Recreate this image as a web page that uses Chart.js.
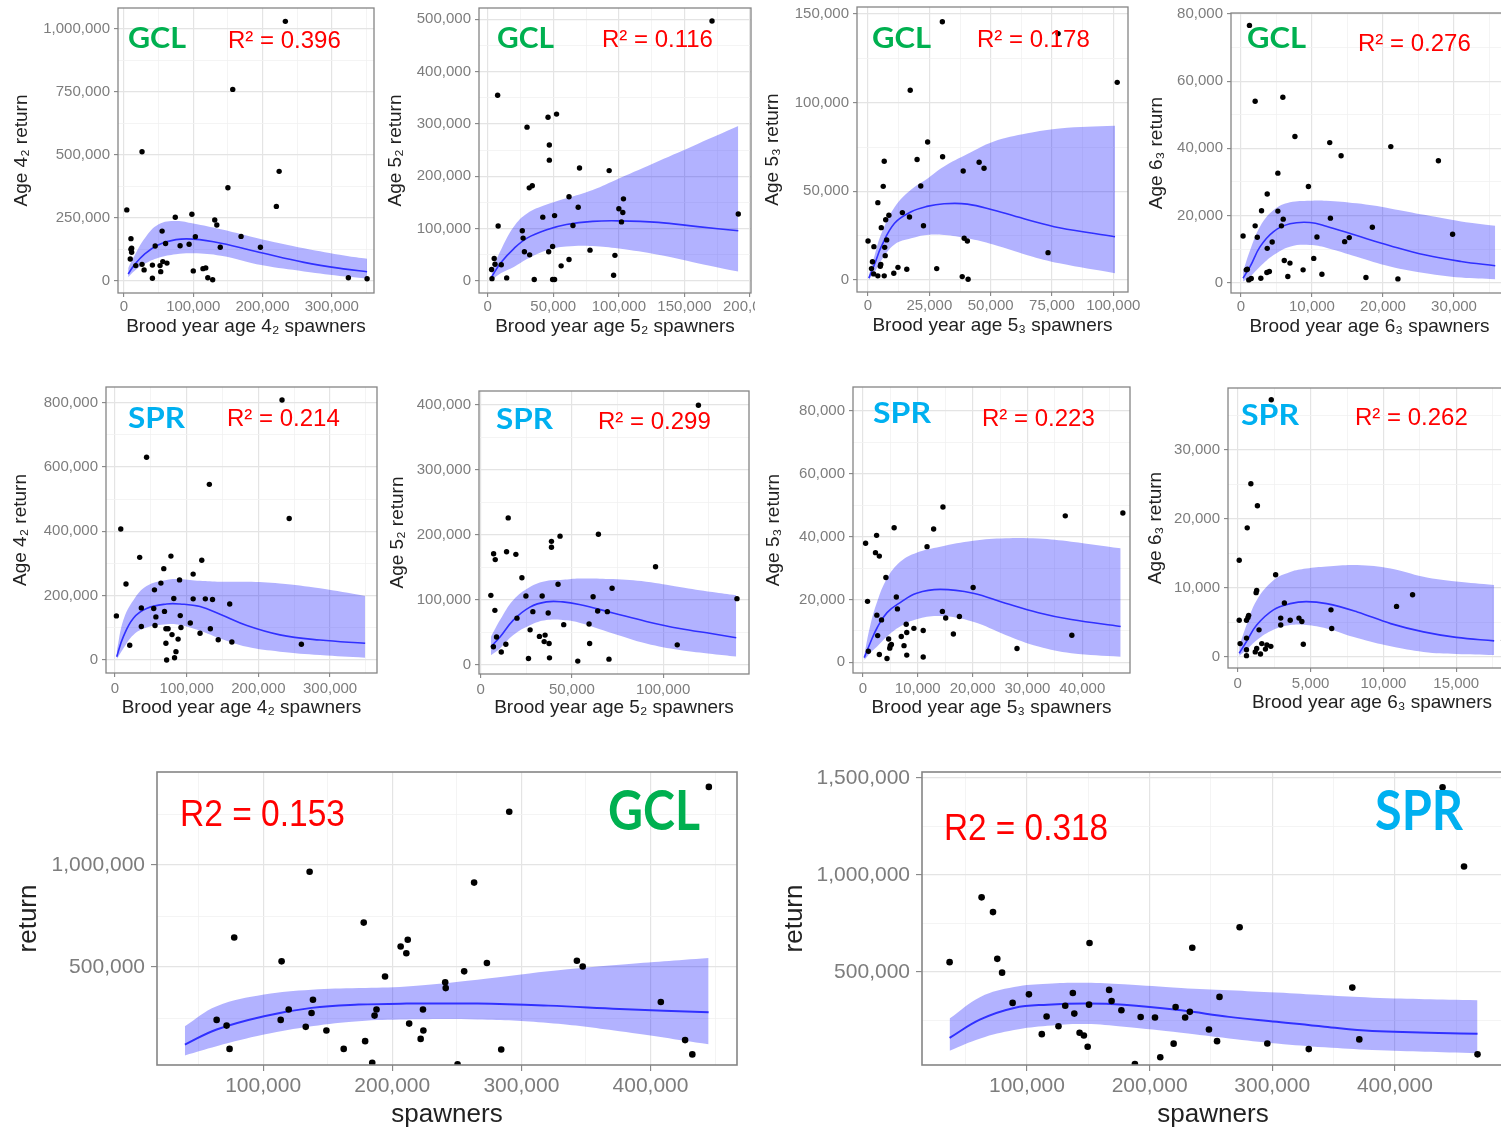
<!DOCTYPE html>
<html>
<head>
<meta charset="utf-8">
<script src="https://cdn.jsdelivr.net/npm/chart.js@4.4.1/dist/chart.umd.min.js"></script>
<style>
html,body{margin:0;padding:0;background:#fff;overflow:hidden;width:1501px;height:1130px;position:relative}
canvas{position:absolute;display:block}
</style>
</head>
<body>
<script>
// ---------------- DATA ----------------
// GCL, age 4_2
const gcl42_spawners = [4000,10000,10000,11000,11000,9000,17000,26000,26000,29000,41000,41000,45000,55000,52000,53000,56000,60000,62000,74000,81000,94000,98000,100000,103000,114000,118000,121000,128000,131000,134000,139000,150000,157000,169000,197000,220000,224000,233000,324000,351000];
const gcl42_return   = [282000,168000,126000,114000,130000,87000,61000,513000,66000,44000,63000,11000,139000,198000,61000,37000,77000,149000,71000,253000,140000,146000,265000,40000,176000,49000,52000,13000,5000,242000,222000,134000,370000,760000,177000,134000,296000,435000,1030000,13000,9000];
const gcl42_fitS = [6000,15000,30000,50000,75000,100000,140000,200000,260000,320000,351000];
const gcl42_fit  = [28000,64000,108000,144000,164000,166000,150000,111000,74000,47000,37000];
const gcl42_hi   = [52000,100000,170000,225000,238000,228000,205000,165000,130000,100000,88000];
const gcl42_lo   = [15000,40000,68000,92000,106000,110000,100000,62000,38000,18000,10000];

// GCL, age 5_2
const gcl52_spawners = [3300,3000,5000,5600,8000,7600,10400,14500,26400,27000,28000,30000,31700,34000,32000,35500,42000,46000,47000,47000,46500,49500,49500,51000,51000,52500,56000,62000,62000,65000,69000,70000,78000,92600,97000,96000,100000,102000,103000,103500,171000,191000];
const gcl52_return   = [4500,22000,43000,32000,105000,355000,31000,6000,96000,82000,56000,294000,178000,182000,50000,3000,122000,313000,260000,231000,56000,66000,3000,3000,125000,319000,29000,161000,41000,106000,141000,216000,59000,211000,49000,11000,138000,113000,131000,157000,497000,128000];
const gcl52_fitS = [3000,10000,20000,30000,45000,60000,80000,100000,130000,160000,191000];
const gcl52_fit  = [8000,35000,62000,82000,98000,108000,114000,115000,112000,104000,96000];
const gcl52_hi   = [20000,59000,104000,129000,146000,158000,174000,196000,229000,262000,296000];
const gcl52_lo   = [2000,15000,27000,42000,59000,66000,67000,62000,50000,34000,18000];

// GCL, age 5_3
const gcl53_spawners = [0,2400,1800,1400,2300,4000,4000,5000,5200,5400,6200,6600,6600,6800,7000,7200,7600,8500,10500,12200,14000,15800,30300,17200,16900,20000,21500,22600,24300,28000,30400,38400,38800,39200,40500,40800,45300,47300,73400,77500,101600];
const gcl53_return   = [22000,18800,10300,6400,3400,43600,2300,7700,8700,29500,52800,67000,2300,18400,13700,34000,22600,36500,3800,7100,38000,6000,145700,107000,35500,68000,53000,30600,77800,6400,69500,1900,61500,23500,22000,400,66400,63000,15400,139000,111500];
const gcl53_fitS = [300,2700,5400,10800,17600,24000,31000,40500,51000,65000,78000,100700];
const gcl53_fit  = [1000,9000,18800,32000,38500,41500,43000,42800,39500,34000,29500,24400];
const gcl53_hi   = [2500,14000,26000,41000,51000,57000,64000,71000,78000,82700,85500,87000];
const gcl53_lo   = [0,4500,11000,20000,23500,25400,25400,23500,20000,14000,9400,3800];

// GCL, age 6_3
const gcl63_spawners = [300,750,900,1100,1450,1200,2000,2000,2300,2800,2900,3700,3700,3650,4000,4400,5200,5200,5700,5900,5950,6100,6600,6900,7600,8750,9500,10250,10700,11400,12500,12600,14100,14600,15250,17600,18500,21100,22100,27800,29800];
const gcl63_return   = [13900,3800,4000,800,1200,76600,54000,16900,13500,1300,21400,26400,10200,3000,3300,12100,21300,32600,16900,55200,18900,6600,1800,5800,43500,3800,28600,7200,13600,2500,41700,19200,37800,12200,13400,1500,16500,40500,1100,36300,14400];
const gcl63_fitS = [300,1300,2700,4600,6900,9700,12000,16300,21000,26000,31000,35800];
const gcl63_fit  = [1300,4800,10700,15200,17500,17900,16800,14000,11000,8200,6300,5000];
const gcl63_hi   = [3300,9700,16700,21600,23900,24400,24400,23600,22100,20100,18200,16900];
const gcl63_lo   = [300,1800,4800,8200,10700,11200,10400,7700,4800,2800,1500,1000];

// SPR, age 4_2
const spr42_spawners = [1900,8000,15300,20500,34400,36700,36700,44000,54000,55000,55800,57000,64000,68000,69000,71000,71000,72000,74000,78000,79500,82000,83000,85000,88000,90000,91000,92000,105000,109000,109000,118600,121000,126000,131600,133000,136000,144000,160000,163000,233000,243000,260000];
const spr42_return   = [137000,407000,236000,46000,319000,162000,104000,630000,160000,218000,107000,134000,239000,284000,151000,52000,97000,0,97000,323000,79000,191000,7000,26000,65000,249000,138000,101000,115000,267000,190000,83000,310000,190000,546000,97000,188000,63000,174000,56000,808000,440000,49000];
const spr42_fitS = [2300,11600,25600,44000,72000,90700,118600,146500,184000,230000,286000,349000];
const spr42_fit  = [10000,72500,130000,160000,174000,174000,166000,142000,107000,78000,62000,52000];
const spr42_hi   = [26000,124000,186000,230000,249000,251000,246000,243000,243000,238000,223000,199000];
const spr42_lo   = [2000,36000,78000,101000,111000,109000,91000,67000,41000,26000,15500,7000];

// SPR, age 5_2
const spr52_spawners = [5600,7100,8000,7800,8700,7000,11300,13800,14200,15100,19300,19900,22600,24800,26200,27100,28600,32200,33700,34800,35300,37500,37700,37000,38800,38800,42400,43500,45500,53200,59400,59700,61600,64100,64500,69400,70300,72000,95800,107700,119300,140400];
const spr52_return   = [107000,171000,162000,84000,43000,28000,20000,32000,174000,226000,170000,72000,134000,106000,10000,54000,82000,44000,106000,36000,46000,33000,11000,80000,190000,181000,124000,198000,62000,6000,63000,33000,105000,83000,201000,82000,9000,118000,151000,31000,399000,102000];
const spr52_fitS = [5600,10600,17900,27000,36000,45000,54000,72500,90700,109000,127000,140000];
const spr52_fit  = [28000,43000,69000,89000,97000,97000,93000,80000,67000,56000,48000,42000];
const spr52_hi   = [43000,69000,100000,120000,129000,131000,133000,132000,128000,120000,112000,107000];
const spr52_lo   = [15000,25500,46000,61000,69000,69000,65000,48500,33000,23000,17000,13000];

// SPR, age 5_3
const spr53_spawners = [500,850,1000,2300,2500,2550,2700,3000,3000,3400,4200,4400,4700,4900,5000,5200,5700,6100,6300,7000,7500,7900,8000,8000,9300,11000,11000,11700,12900,14600,14500,15100,16500,17600,20100,28100,36900,38100,47400];
const spr53_return   = [37900,19400,3500,34900,40400,15000,8500,33800,2500,13500,27000,1200,7400,4500,5300,5700,42800,20800,17000,8200,5300,12100,9500,2300,10800,1700,10100,36800,42400,49400,16200,14100,9000,14600,23800,4400,46600,8600,47500];
const spr53_fitS = [250,1300,2600,4400,6800,9800,14100,20100,26000,32000,38000,47000];
const spr53_fit  = [1500,6000,11000,15800,19000,22000,23200,22000,18800,15800,13600,11400];
const spr53_hi   = [2300,11400,19300,26700,32000,34900,36800,38700,39500,39400,38400,36300];
const spr53_lo   = [700,2900,5000,8200,11400,13700,14700,12900,8700,5000,2900,1800];

// SPR, age 6_3
const spr63_spawners = [100,100,160,600,600,600,600,700,750,650,900,1200,1260,1300,1350,1300,1460,1560,1650,1900,2000,2270,2300,2600,2950,2950,3200,3600,4200,4400,4500,6400,6450,10900,12000,18250];
const spr63_return   = [14000,5300,1900,2700,1000,150,5300,5700,6000,18700,25100,700,9300,9600,21900,1200,3900,400,1900,1100,1700,1500,37300,11900,5600,4600,7800,5300,5600,5100,1800,6800,4100,7300,9000,2400];
const spr63_fitS = [100,600,1300,2450,3600,4700,6100,8200,10500,12750,15000,17600];
const spr63_fit  = [500,2200,4600,6800,7700,8000,7700,6500,4800,3600,2800,2300];
const spr63_hi   = [1500,4600,8200,11100,12300,12800,13100,13300,12800,11600,10900,10400];
const spr63_lo   = [100,1000,2400,3900,4600,4600,4100,2700,1500,700,400,250];

// GCL, all ages
const gclAll_spawners = [64000,71700,74000,77600,114300,113600,119800,133000,136000,137500,138600,149000,162400,177900,179000,184500,186300,187800,194400,206500,210900,212000,213100,222000,223800,224100,241000,241400,250600,255700,263400,273300,284400,290600,343000,347500,408000,426800,432400,445200];
const gclAll_return   = [241000,213000,99000,645000,528000,241000,292000,207000,967000,275000,340000,189000,99000,718000,137000,31000,262000,292000,454000,601000,568000,634000,223000,148000,292000,189000,425000,397000,23000,479000,914000,520000,96000,1261000,531000,503000,329000,142000,72000,1383000];
const gclAll_fitS = [39400,64000,100700,137500,174000,211000,266000,321000,376000,445000];
const gclAll_fit  = [120000,194000,259000,300000,316000,321000,321000,311000,295000,278000];
const gclAll_hi   = [210000,308000,365000,389000,397000,405000,438000,479000,511000,544000];
const gclAll_lo   = [67000,112000,169000,210000,235000,243000,243000,226000,186000,122000];

// SPR, all ages
const sprAll_spawners = [36900,63000,72300,75800,79700,88300,101600,112100,116000,125700,131200,137400,138600,142900,146400,149500,151000,150600,167000,169000,177000,188000,192700,204400,208700,219600,221200,229000,232800,234800,248400,255000,257000,273400,296000,329800,365300,371000,438900,456400,467400];
const sprAll_return   = [551000,885000,809000,568000,497000,341000,385000,180000,271000,221000,326000,392000,286000,187000,173000,115000,650000,332000,408000,351000,303000,26000,268000,266000,61000,131000,320000,266000,295000,625000,204000,144000,372000,731000,132000,103000,420000,153000,1452000,1044000,76000];
const sprAll_fitS = [36900,62000,89500,116800,148000,179000,225800,264800,303700,342700,381600,467400];
const sprAll_fit  = [161000,256000,315000,332000,338000,332000,303000,269000,244000,218000,196000,182000];
const sprAll_hi   = [261000,372000,423000,440000,445000,437000,418000,406000,394000,380000,368000,355000];
const sprAll_lo   = [95000,158000,201000,223000,232000,218000,187000,158000,132000,112000,98000,81000];

// Tick values (major = labelled, minor = grid only)
const t_x42_major = [0,100000,200000,300000],        t_x42_minor = [50000,150000,250000,350000];
const t_y_gcl42_major = [0,250000,500000,750000,1000000], t_y_gcl42_minor = [125000,375000,625000,875000];
const t_x_gcl52_major = [0,50000,100000,150000,200000], t_x_gcl52_minor = [25000,75000,125000,175000];
const t_y_gcl52_major = [0,100000,200000,300000,400000,500000], t_y_gcl52_minor = [50000,150000,250000,350000,450000];
const t_x_gcl53_major = [0,25000,50000,75000,100000], t_x_gcl53_minor = [12500,37500,62500,87500];
const t_y_gcl53_major = [0,50000,100000,150000], t_y_gcl53_minor = [25000,75000,125000];
const t_x_gcl63_major = [0,10000,20000,30000], t_x_gcl63_minor = [5000,15000,25000,35000];
const t_y_80k_major = [0,20000,40000,60000,80000], t_y_80k_minor = [10000,30000,50000,70000];
const t_y_spr42_major = [0,200000,400000,600000,800000], t_y_spr42_minor = [100000,300000,500000,700000];
const t_x_spr52_major = [0,50000,100000], t_x_spr52_minor = [25000,75000,125000];
const t_y_spr52_major = [0,100000,200000,300000,400000], t_y_spr52_minor = [50000,150000,250000,350000];
const t_x_spr53_major = [0,10000,20000,30000,40000], t_x_spr53_minor = [5000,15000,25000,35000,45000];
const t_x_spr63_major = [0,5000,10000,15000], t_x_spr63_minor = [2500,7500,12500,17500];
const t_y_spr63_major = [0,10000,20000,30000], t_y_spr63_minor = [5000,15000,25000,35000];
const t_x_all_major = [100000,200000,300000,400000], t_x_all_minor = [50000,150000,250000,350000,450000];
const t_y_gclAll_major = [500000,1000000], t_y_all_minor = [250000,750000,1250000];
const t_y_sprAll_major = [500000,1000000,1500000];

// ---------------- STYLE ----------------
Chart.defaults.font.family = "'Liberation Sans', Arial, sans-serif";
const GREEN = '#00B050', CYAN = '#00B0F0', RED = '#FF0000';
const TAG_FONT = "bold 29px Lato, 'Open Sans', sans-serif";
const TAG_FONT_BIG = "bold 55px Lato, 'Open Sans', sans-serif";
const R2_FONT = "24px 'Liberation Sans', Arial, sans-serif";
const R2_FONT_BIG = "36px 'Liberation Sans', Arial, sans-serif";
const GRID_MAJOR = '#e4e4e4', GRID_MINOR = '#f1f1f1';
const TICK_TXT = '#7d7d7d', TITLE_TXT = '#222222', FRAME = '#858585';

const fmt = v => v.toLocaleString('en-US');
const pts = (xs, ys) => xs.map((x, i) => ({x: x, y: ys[i]}));
function tickList(major, minor) {
  return major.map(v => ({value: v, isMinor: false}))
    .concat(minor.map(v => ({value: v, isMinor: true})))
    .sort((a, b) => a.value - b.value);
}

// ---------------- PANELS ----------------
const panels = [
  { box:{l:118,t:8,r:374,b:293}, xr:[-8700,361000], yr:[-47600,1083000], yTitleX:21, xTitleY:327, xPad:1,
    xs:gcl42_spawners, ys:gcl42_return, fx:gcl42_fitS, fit:gcl42_fit, lo:gcl42_lo, hi:gcl42_hi,
    xMaj:t_x42_major, xMin:t_x42_minor, yMaj:t_y_gcl42_major, yMin:t_y_gcl42_minor,
    xTitle:'Brood year age 4\u2082 spawners', yTitle:'Age 4\u2082 return',
    notes:[{text:'GCL',x:128,y:48,font:TAG_FONT,color:GREEN,w:58},{text:'R\u00b2 = 0.396',x:228,y:48,font:R2_FONT,color:RED}] },
  { box:{l:479,t:8,r:751,b:293}, xr:[-6600,200700], yr:[-22900,521700], yTitleX:395, xTitleY:327, xPad:1, pr:4,
    xs:gcl52_spawners, ys:gcl52_return, fx:gcl52_fitS, fit:gcl52_fit, lo:gcl52_lo, hi:gcl52_hi,
    xMaj:t_x_gcl52_major, xMin:t_x_gcl52_minor, yMaj:t_y_gcl52_major, yMin:t_y_gcl52_minor,
    xTitle:'Brood year age 5\u2082 spawners', yTitle:'Age 5\u2082 return',
    notes:[{text:'GCL',x:497,y:48,font:TAG_FONT,color:GREEN,w:57},{text:'R\u00b2 = 0.116',x:602,y:47,font:R2_FONT,color:RED}] },
  { box:{l:857,t:7,r:1128,b:292}, xr:[-4500,106000], yr:[-6800,154000], yTitleX:772, xTitleY:326, xPad:1,
    xs:gcl53_spawners, ys:gcl53_return, fx:gcl53_fitS, fit:gcl53_fit, lo:gcl53_lo, hi:gcl53_hi,
    xMaj:t_x_gcl53_major, xMin:t_x_gcl53_minor, yMaj:t_y_gcl53_major, yMin:t_y_gcl53_minor,
    xTitle:'Brood year age 5\u2083 spawners', yTitle:'Age 5\u2083 return',
    notes:[{text:'GCL',x:872,y:48,font:TAG_FONT,color:GREEN,w:59},{text:'R\u00b2 = 0.178',x:977,y:47,font:R2_FONT,color:RED}] },
  { box:{l:1231,t:13,r:1508,b:293}, xr:[-1400,37600], yr:[-3100,80300], yTitleX:1156, xTitleY:327, xPad:1,
    xs:gcl63_spawners, ys:gcl63_return, fx:gcl63_fitS, fit:gcl63_fit, lo:gcl63_lo, hi:gcl63_hi,
    xMaj:t_x_gcl63_major, xMin:t_x_gcl63_minor, yMaj:t_y_80k_major, yMin:t_y_80k_minor,
    xTitle:'Brood year age 6\u2083 spawners', yTitle:'Age 6\u2083 return',
    notes:[{text:'GCL',x:1247,y:48,font:TAG_FONT,color:GREEN,w:59},{text:'R\u00b2 = 0.276',x:1358,y:51,font:R2_FONT,color:RED}] },
  { box:{l:106,t:387,r:377,b:673}, xr:[-12600,365500], yr:[-40400,848500], yTitleX:20, xTitleY:708, xPad:3,
    xs:spr42_spawners, ys:spr42_return, fx:spr42_fitS, fit:spr42_fit, lo:spr42_lo, hi:spr42_hi,
    xMaj:t_x42_major, xMin:t_x42_minor, yMaj:t_y_spr42_major, yMin:t_y_spr42_minor,
    xTitle:'Brood year age 4\u2082 spawners', yTitle:'Age 4\u2082 return',
    notes:[{text:'SPR',x:128,y:428,font:TAG_FONT,color:CYAN,w:57},{text:'R\u00b2 = 0.214',x:227,y:426,font:R2_FONT,color:RED}] },
  { box:{l:479,t:391,r:749,b:674}, xr:[-900,147000], yr:[-13800,421000], yTitleX:397, xTitleY:708, xPad:3,
    xs:spr52_spawners, ys:spr52_return, fx:spr52_fitS, fit:spr52_fit, lo:spr52_lo, hi:spr52_hi,
    xMaj:t_x_spr52_major, xMin:t_x_spr52_minor, yMaj:t_y_spr52_major, yMin:t_y_spr52_minor,
    xTitle:'Brood year age 5\u2082 spawners', yTitle:'Age 5\u2082 return',
    notes:[{text:'SPR',x:496,y:429,font:TAG_FONT,color:CYAN,w:57},{text:'R\u00b2 = 0.299',x:598,y:429,font:R2_FONT,color:RED}] },
  { box:{l:853,t:387,r:1130,b:673}, xr:[-1800,48700], yr:[-3400,87600], yTitleX:773, xTitleY:708, xPad:3,
    xs:spr53_spawners, ys:spr53_return, fx:spr53_fitS, fit:spr53_fit, lo:spr53_lo, hi:spr53_hi,
    xMaj:t_x_spr53_major, xMin:t_x_spr53_minor, yMaj:t_y_80k_major, yMin:t_y_80k_minor,
    xTitle:'Brood year age 5\u2083 spawners', yTitle:'Age 5\u2083 return',
    notes:[{text:'SPR',x:873,y:423,font:TAG_FONT,color:CYAN,w:58},{text:'R\u00b2 = 0.223',x:982,y:426,font:R2_FONT,color:RED}] },
  { box:{l:1228,t:388,r:1516,b:668}, xr:[-670,19100], yr:[-1640,39000], yTitleX:1155, xTitleY:703, xPad:3,
    xs:spr63_spawners, ys:spr63_return, fx:spr63_fitS, fit:spr63_fit, lo:spr63_lo, hi:spr63_hi,
    xMaj:t_x_spr63_major, xMin:t_x_spr63_minor, yMaj:t_y_spr63_major, yMin:t_y_spr63_minor,
    xTitle:'Brood year age 6\u2083 spawners', yTitle:'Age 6\u2083 return',
    notes:[{text:'SPR',x:1241,y:425,font:TAG_FONT,color:CYAN,w:58},{text:'R\u00b2 = 0.262',x:1355,y:425,font:R2_FONT,color:RED}] },
  { box:{l:157,t:772,r:737,b:1065}, xr:[17800,467000], yr:[20000,1456000], yTitleX:29, xTitleY:1114, xPad:3, big:true,
    xs:gclAll_spawners, ys:gclAll_return, fx:gclAll_fitS, fit:gclAll_fit, lo:gclAll_lo, hi:gclAll_hi,
    xMaj:t_x_all_major, xMin:t_x_all_minor, yMaj:t_y_gclAll_major, yMin:t_y_all_minor,
    xTitle:'spawners', yTitle:'return',
    notes:[{text:'R2 = 0.153',x:180,y:826,font:R2_FONT_BIG,color:RED,w:165},{text:'GCL',x:608,y:830,font:TAG_FONT_BIG,color:GREEN,w:92}] },
  { box:{l:922,t:772,r:1504,b:1065}, xr:[14400,489000], yr:[21000,1531000], yTitleX:795, xTitleY:1114, xPad:3, big:true,
    xs:sprAll_spawners, ys:sprAll_return, fx:sprAll_fitS, fit:sprAll_fit, lo:sprAll_lo, hi:sprAll_hi,
    xMaj:t_x_all_major, xMin:t_x_all_minor, yMaj:t_y_sprAll_major, yMin:t_y_all_minor,
    xTitle:'spawners', yTitle:'return',
    notes:[{text:'R2 = 0.318',x:944,y:840,font:R2_FONT_BIG,color:RED,w:164},{text:'SPR',x:1375,y:830,font:TAG_FONT_BIG,color:CYAN,w:88}] }
];

function makePanel(p) {
  const big = !!p.big;
  const tickSize = big ? 21 : 15;
  const titleSize = big ? 26 : 19;
  const lh = titleSize * 1.2;
  const tl = big ? 6 : 4;
  const yw = Math.round(p.box.l - p.yTitleX + 4 + lh / 2);
  const xh = Math.round(p.xTitleY - p.box.b + 4 + lh / 2);
  const pt = 14;
  const pr = (p.pr !== undefined) ? p.pr : 14;
  const W = yw + (p.box.r - p.box.l) + pr;
  const H = pt + (p.box.b - p.box.t) + xh;
  const ox = p.box.l - yw, oy = p.box.t - pt;
  const cv = document.createElement('canvas');
  cv.width = W; cv.height = H;
  cv.style.left = ox + 'px'; cv.style.top = oy + 'px';
  cv.style.width = W + 'px'; cv.style.height = H + 'px';
  document.body.appendChild(cv);

  const isMinor = c => !!(c.tick && c.tick.isMinor);
  const grid = {
    color: c => isMinor(c) ? GRID_MINOR : GRID_MAJOR,
    lineWidth: c => isMinor(c) ? 0.8 : 1.2,
    drawTicks: true,
    tickLength: tl,
    tickColor: c => isMinor(c) ? 'rgba(0,0,0,0)' : FRAME,
    tickWidth: 1.1
  };
  const label = (v, i, t) => (t[i] && t[i].isMinor) ? '' : fmt(v);

  const framePlugin = {
    id: 'frame',
    afterDatasetsDraw(chart) {
      const a = chart.chartArea, ctx = chart.ctx;
      ctx.save();
      ctx.strokeStyle = FRAME; ctx.lineWidth = big ? 1.6 : 1.3;
      ctx.strokeRect(a.left, a.top, a.right - a.left, a.bottom - a.top);
      ctx.restore();
    }
  };
  const notePlugin = {
    id: 'notes',
    afterDraw(chart) {
      const ctx = chart.ctx;
      p.notes.forEach(n => {
        ctx.save();
        ctx.font = n.font; ctx.fillStyle = n.color;
        ctx.textAlign = 'left'; ctx.textBaseline = 'alphabetic';
        ctx.translate(n.x - ox, n.y - oy);
        if (n.w) { const m = ctx.measureText(n.text).width; if (m > 0) ctx.scale(n.w / m, 1); }
        ctx.fillText(n.text, 0, 0);
        ctx.restore();
      });
    }
  };

  const band = 'rgba(0,0,255,0.3)';
  const T = 0.4;
  new Chart(cv, {
    type: 'line',
    data: {
      datasets: [
        { label: 'observed', data: pts(p.xs, p.ys), showLine: false,
          pointRadius: big ? 3.3 : 2.7, pointBackgroundColor: '#000', pointBorderWidth: 0, pointBorderColor: '#000' },
        { label: 'fit', data: pts(p.fx, p.fit), borderColor: '#3030ff', borderWidth: big ? 2 : 1.6,
          pointRadius: 0, fill: false, tension: T },
        { label: 'upper', data: pts(p.fx, p.hi), borderColor: 'rgba(0,0,0,0)', borderWidth: 0,
          pointRadius: 0, fill: '+1', backgroundColor: band, tension: T },
        { label: 'lower', data: pts(p.fx, p.lo), borderColor: 'rgba(0,0,0,0)', borderWidth: 0,
          pointRadius: 0, fill: false, tension: T }
      ]
    },
    options: {
      responsive: false, animation: false, events: [],
      layout: { padding: { left: 0, top: pt, right: pr, bottom: 0 } },
      plugins: { legend: { display: false }, tooltip: { enabled: false } },
      scales: {
        x: {
          type: 'linear', bounds: 'data', min: p.xr[0], max: p.xr[1],
          afterBuildTicks: s => { s.ticks = tickList(p.xMaj, p.xMin); },
          afterFit: s => { s.height = xh; s.paddingLeft = 0; s.paddingRight = 0; },
          ticks: { autoSkip: false, maxRotation: 0, minRotation: 0, padding: p.xPad,
                   color: TICK_TXT, font: { size: tickSize }, callback: label },
          grid: grid, border: { display: false },
          title: { display: true, text: p.xTitle, color: TITLE_TXT, font: { size: titleSize },
                   padding: { top: 4, bottom: 4 } }
        },
        y: {
          type: 'linear', bounds: 'data', min: p.yr[0], max: p.yr[1],
          afterBuildTicks: s => { s.ticks = tickList(p.yMaj, p.yMin); },
          afterFit: s => { s.width = yw; s.paddingTop = 0; s.paddingBottom = 0; },
          ticks: { autoSkip: false, padding: big ? 6 : 4, color: TICK_TXT,
                   font: { size: tickSize }, callback: label },
          grid: grid, border: { display: false },
          title: { display: true, text: p.yTitle, color: TITLE_TXT, font: { size: titleSize },
                   padding: { top: 4, bottom: 4 } }
        }
      }
    },
    plugins: [framePlugin, notePlugin]
  });
}

panels.forEach(makePanel);
</script>
</body>
</html>
